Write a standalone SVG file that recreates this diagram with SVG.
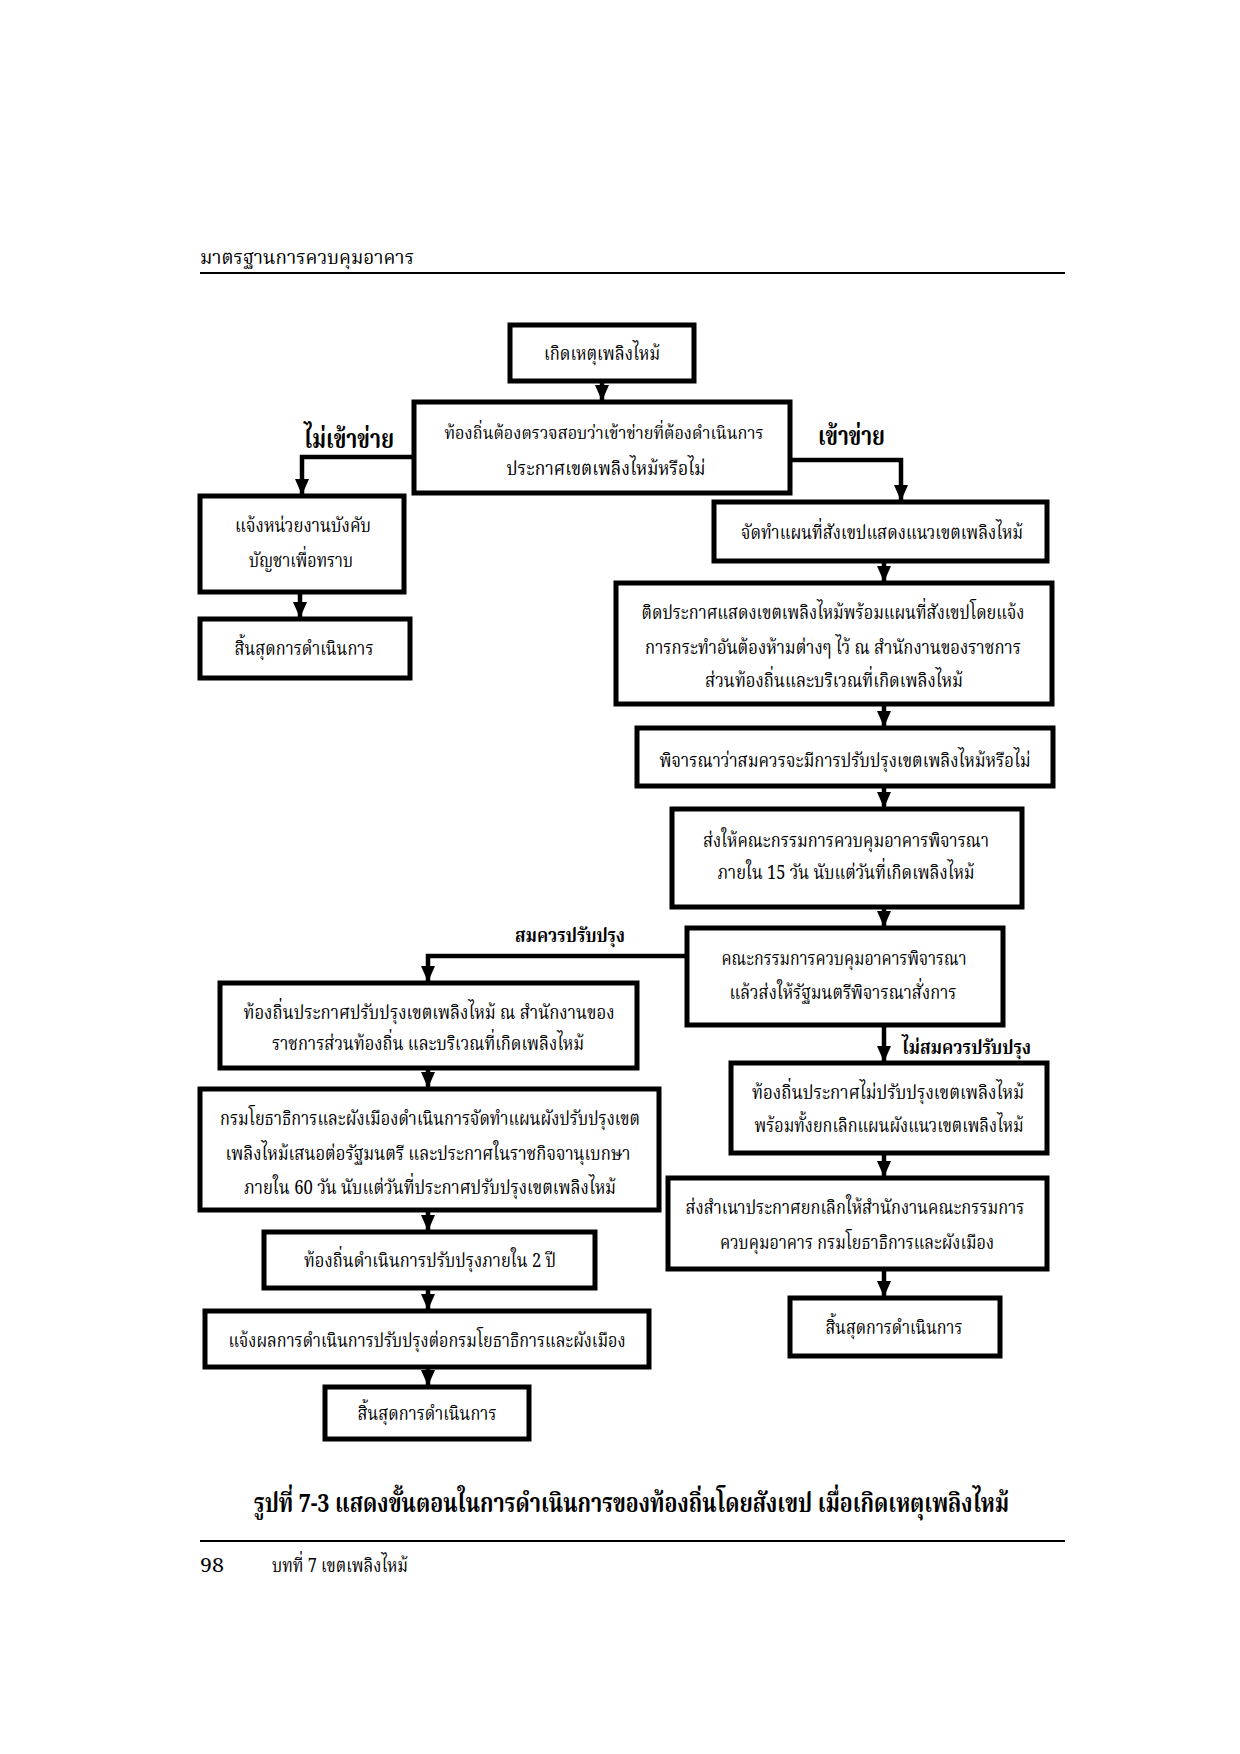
<svg xmlns="http://www.w3.org/2000/svg" width="1240" height="1754" viewBox="0 0 1240 1754">
<defs>
<style>
text{font-family:"Noto Serif Thai","Noto Sans Thai","Loma","Garuda","Liberation Serif",serif;font-size:20px;fill:#000;}
.c{text-anchor:middle;}
.b{font-weight:bold;}
rect.n{fill:#fff;stroke:#000;stroke-width:5;}
.cn{fill:none;stroke:#000;stroke-width:4.5;marker-end:url(#ah);}
.rule{stroke:#000;stroke-width:2;}
</style>
<marker id="ah" markerUnits="userSpaceOnUse" markerWidth="16" markerHeight="14" refX="15" refY="7" orient="auto" viewBox="0 0 16 14"><path d="M0,0 L16,7 L0,14 Z" fill="#000"/></marker>
</defs>
<rect width="1240" height="1754" fill="#fff"/>
<text x="200" y="264" textLength="214" lengthAdjust="spacingAndGlyphs">มาตรฐานการควบคุมอาคาร</text>
<line class="rule" x1="200" y1="273" x2="1065" y2="273"/>
<g id="connectors">
<path class="cn" d="M602,381 V400"/>
<path class="cn" d="M414,457 H302 V494"/>
<path class="cn" d="M790,460 H901 V500"/>
<path class="cn" d="M300,592 V617"/>
<path class="cn" d="M884,561 V581"/>
<path class="cn" d="M884,704 V726"/>
<path class="cn" d="M884,786 V807"/>
<path class="cn" d="M884,907 V926"/>
<path class="cn" d="M687,956 H428 V981"/>
<path class="cn" d="M884,1025 V1061"/>
<path class="cn" d="M428,1068 V1087"/>
<path class="cn" d="M428,1210 V1230"/>
<path class="cn" d="M428,1288 V1309"/>
<path class="cn" d="M428,1367 V1385"/>
<path class="cn" d="M884,1153 V1176"/>
<path class="cn" d="M884,1269 V1296"/>
</g>
<g id="labels">
<text class="b" x="304" y="448" textLength="90" lengthAdjust="spacingAndGlyphs" style="font-size:26px">ไม่เข้าข่าย</text>
<text class="b" x="818" y="445" textLength="67" lengthAdjust="spacingAndGlyphs" style="font-size:26px">เข้าข่าย</text>
<text class="b" x="515" y="942" textLength="110" lengthAdjust="spacingAndGlyphs">สมควรปรับปรุง</text>
<text class="b" x="902" y="1054" textLength="129" lengthAdjust="spacingAndGlyphs">ไม่สมควรปรับปรุง</text>
</g>
<g id="n1"><rect class="n" x="510" y="325" width="184" height="56"/><text class="c" x="602" y="360" textLength="116" lengthAdjust="spacingAndGlyphs">เกิดเหตุเพลิงไหม้</text></g>
<g id="n2"><rect class="n" x="414" y="402" width="376" height="91"/><text class="c" x="604" y="439" textLength="319" lengthAdjust="spacingAndGlyphs" style="font-size:18px">ท้องถิ่นต้องตรวจสอบว่าเข้าข่ายที่ต้องดำเนินการ</text><text class="c" x="606" y="475" textLength="199" lengthAdjust="spacingAndGlyphs">ประกาศเขตเพลิงไหม้หรือไม่</text></g>
<g id="n3"><rect class="n" x="200" y="496" width="204" height="96"/><text class="c" x="303" y="532" textLength="136" lengthAdjust="spacingAndGlyphs">แจ้งหน่วยงานบังคับ</text><text class="c" x="301" y="567" textLength="104" lengthAdjust="spacingAndGlyphs">บัญชาเพื่อทราบ</text></g>
<g id="n4"><rect class="n" x="200" y="619" width="210" height="59"/><text class="c" x="304" y="655" textLength="139" lengthAdjust="spacingAndGlyphs">สิ้นสุดการดำเนินการ</text></g>
<g id="n5"><rect class="n" x="714" y="502" width="333" height="59"/><text class="c" x="882" y="539" textLength="282" lengthAdjust="spacingAndGlyphs">จัดทำแผนที่สังเขปแสดงแนวเขตเพลิงไหม้</text></g>
<g id="n6"><rect class="n" x="616" y="583" width="436" height="121"/><text class="c" x="833" y="619" textLength="383" lengthAdjust="spacingAndGlyphs">ติดประกาศแสดงเขตเพลิงไหม้พร้อมแผนที่สังเขปโดยแจ้ง</text><text class="c" x="833" y="654" textLength="376" lengthAdjust="spacingAndGlyphs">การกระทำอันต้องห้ามต่างๆ ไว้ ณ สำนักงานของราชการ</text><text class="c" x="834" y="687" textLength="258" lengthAdjust="spacingAndGlyphs">ส่วนท้องถิ่นและบริเวณที่เกิดเพลิงไหม้</text></g>
<g id="n7"><rect class="n" x="637" y="728" width="416" height="58"/><text class="c" x="845" y="767" textLength="371" lengthAdjust="spacingAndGlyphs">พิจารณาว่าสมควรจะมีการปรับปรุงเขตเพลิงไหม้หรือไม่</text></g>
<g id="n8"><rect class="n" x="672" y="809" width="350" height="98"/><text class="c" x="846" y="847" textLength="286" lengthAdjust="spacingAndGlyphs">ส่งให้คณะกรรมการควบคุมอาคารพิจารณา</text><text class="c" x="846" y="879" textLength="257" lengthAdjust="spacingAndGlyphs">ภายใน 15 วัน นับแต่วันที่เกิดเพลิงไหม้</text></g>
<g id="n9"><rect class="n" x="687" y="928" width="316" height="97"/><text class="c" x="844" y="965" textLength="245" lengthAdjust="spacingAndGlyphs">คณะกรรมการควบคุมอาคารพิจารณา</text><text class="c" x="843" y="999" textLength="227" lengthAdjust="spacingAndGlyphs">แล้วส่งให้รัฐมนตรีพิจารณาสั่งการ</text></g>
<g id="n10"><rect class="n" x="220" y="983" width="417" height="85"/><text class="c" x="429" y="1019" textLength="371" lengthAdjust="spacingAndGlyphs">ท้องถิ่นประกาศปรับปรุงเขตเพลิงไหม้ ณ สำนักงานของ</text><text class="c" x="428" y="1050" textLength="312" lengthAdjust="spacingAndGlyphs">ราชการส่วนท้องถิ่น และบริเวณที่เกิดเพลิงไหม้</text></g>
<g id="n11"><rect class="n" x="200" y="1089" width="459" height="121"/><text class="c" x="430" y="1125" textLength="420" lengthAdjust="spacingAndGlyphs">กรมโยธาธิการและผังเมืองดำเนินการจัดทำแผนผังปรับปรุงเขต</text><text class="c" x="428" y="1160" textLength="405" lengthAdjust="spacingAndGlyphs">เพลิงไหม้เสนอต่อรัฐมนตรี และประกาศในราชกิจจานุเบกษา</text><text class="c" x="430" y="1194" textLength="372" lengthAdjust="spacingAndGlyphs">ภายใน 60 วัน นับแต่วันที่ประกาศปรับปรุงเขตเพลิงไหม้</text></g>
<g id="n12"><rect class="n" x="264" y="1232" width="331" height="56"/><text class="c" x="430" y="1267" textLength="252" lengthAdjust="spacingAndGlyphs">ท้องถิ่นดำเนินการปรับปรุงภายใน 2 ปี</text></g>
<g id="n13"><rect class="n" x="205" y="1311" width="444" height="56"/><text class="c" x="427" y="1347" textLength="397" lengthAdjust="spacingAndGlyphs">แจ้งผลการดำเนินการปรับปรุงต่อกรมโยธาธิการและผังเมือง</text></g>
<g id="n14"><rect class="n" x="325" y="1387" width="204" height="52"/><text class="c" x="427" y="1420" textLength="139" lengthAdjust="spacingAndGlyphs">สิ้นสุดการดำเนินการ</text></g>
<g id="n15"><rect class="n" x="731" y="1063" width="316" height="90"/><text class="c" x="888" y="1099" textLength="272" lengthAdjust="spacingAndGlyphs">ท้องถิ่นประกาศไม่ปรับปรุงเขตเพลิงไหม้</text><text class="c" x="889" y="1132" textLength="269" lengthAdjust="spacingAndGlyphs">พร้อมทั้งยกเลิกแผนผังแนวเขตเพลิงไหม้</text></g>
<g id="n16"><rect class="n" x="668" y="1178" width="379" height="91"/><text class="c" x="855" y="1214" textLength="339" lengthAdjust="spacingAndGlyphs">ส่งสำเนาประกาศยกเลิกให้สำนักงานคณะกรรมการ</text><text class="c" x="857" y="1249" textLength="274" lengthAdjust="spacingAndGlyphs">ควบคุมอาคาร กรมโยธาธิการและผังเมือง</text></g>
<g id="n17"><rect class="n" x="790" y="1298" width="210" height="58"/><text class="c" x="894" y="1334" textLength="137" lengthAdjust="spacingAndGlyphs">สิ้นสุดการดำเนินการ</text></g>
<text class="b" x="254" y="1512" textLength="755" lengthAdjust="spacingAndGlyphs" style="font-size:26px">รูปที่ 7-3  แสดงขั้นตอนในการดำเนินการของท้องถิ่นโดยสังเขป  เมื่อเกิดเหตุเพลิงไหม้</text>
<line class="rule" x1="200" y1="1541" x2="1065" y2="1541"/>
<text x="200" y="1572" textLength="24" lengthAdjust="spacingAndGlyphs">98</text>
<text x="272" y="1572" textLength="136" lengthAdjust="spacingAndGlyphs">บทที่ 7  เขตเพลิงไหม้</text>
</svg>
